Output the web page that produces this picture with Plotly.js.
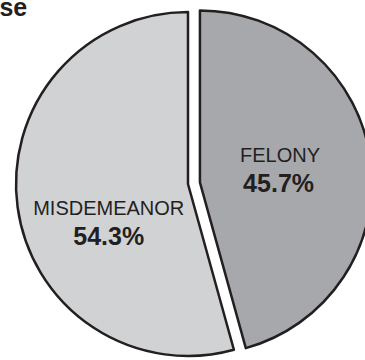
<!DOCTYPE html>
<html>
<head>
<meta charset="utf-8">
<script src="https://cdn.plot.ly/plotly-3.0.1.min.js"></script>
<style>
  html, body { margin: 0; padding: 0; overflow: hidden; background: #ffffff; }
  #chart { width: 400px; height: 400px; }
</style>
</head>
<body>
<div id="chart"></div>
<script>
const labels = ["FELONY", "MISDEMEANOR"];
const values = [45.7, 54.3];
const pulls = [0.07, 0];
const colors = ["#a7a8ab", "#d1d2d4"];
const chartTitle = "Type of Offense";

const labStyle = "font-size:20px";
const pctStyle = "font-size:25px;font-weight:bold";
const templates = [
  "<span style=\"" + labStyle + "\">%{label}&nbsp;&nbsp;</span><br><span style=\"" + pctStyle + "\">%{percent:.1%}&nbsp;&nbsp;</span>",
  "<span style=\"font-size:8px\">&nbsp;</span><br>&nbsp;<br>&nbsp;<br><span style=\"" + labStyle + "\">%{label}</span><br><span style=\"" + pctStyle + "\">%{percent:.1%}</span>"
];

const trace = {
  type: "pie",
  labels: labels,
  values: values,
  pull: pulls,
  sort: false,
  direction: "clockwise",
  rotation: 0,
  marker: { colors: colors, line: { color: "#231f20", width: 2.5 } },
  textinfo: "none",
  texttemplate: templates,
  textposition: "inside",
  insidetextorientation: "horizontal",
  textfont: { family: "Liberation Sans, Arial, sans-serif", size: 23, color: "#231f20" },
  hoverinfo: "skip",
  domain: { x: [0.01, 0.93], y: [0.08, 1] }
};

const layout = {
  width: 400,
  height: 400,
  margin: { l: 0, r: 0, t: 0, b: 0 },
  paper_bgcolor: "#ffffff",
  showlegend: false,
  title: {
    text: "<b>" + chartTitle + "</b>",
    font: { family: "Liberation Sans, Arial, sans-serif", size: 25, color: "#231f20" },
    x: 0.068,
    xanchor: "right",
    xref: "container",
    y: 0.96,
    yref: "container",
    yanchor: "bottom"
  }
};

Plotly.newPlot("chart", [trace], layout, { displayModeBar: false, staticPlot: true });
</script>
</body>
</html>
